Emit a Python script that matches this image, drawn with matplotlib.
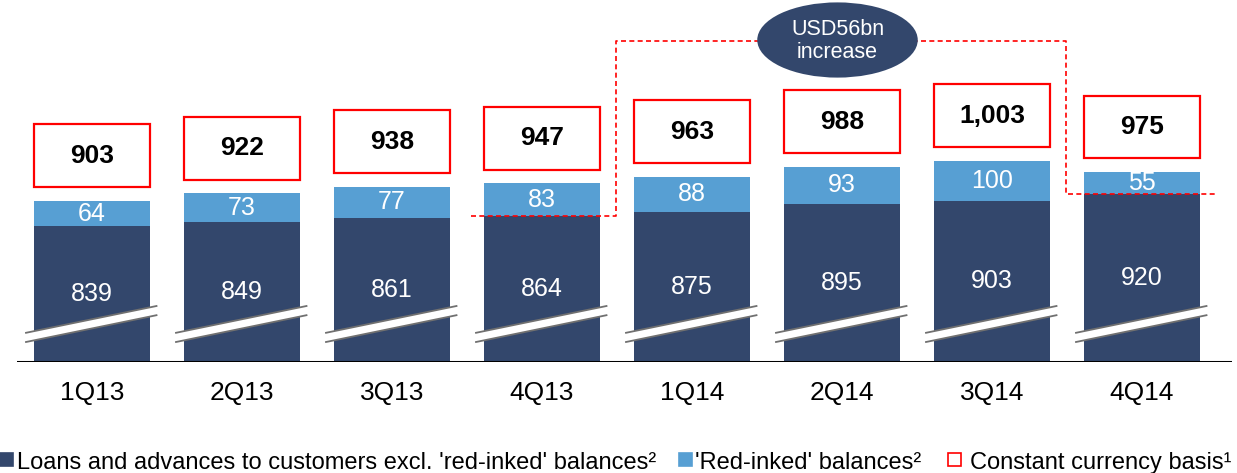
import numpy as np
import matplotlib.pyplot as plt
from matplotlib.patches import Rectangle, Ellipse, Polygon

plt.rcParams['font.family'] = ['Liberation Sans', 'DejaVu Sans']

quarters = ['1Q13', '2Q13', '3Q13', '4Q13', '1Q14', '2Q14', '3Q14', '4Q14']
loans = [839, 849, 861, 864, 875, 895, 903, 920]
red_inked = [64, 73, 77, 83, 88, 93, 100, 55]
constant_ccy = ['903', '922', '938', '947', '963', '988', '1,003', '975']

DARK = '#33476c'
LIGHT = '#579fd3'
RED = '#ff0000'

W, H = 1237, 473

# axis is broken: bars are drawn from zero but only the part above 500 shows
Y0 = 500
BOX_GAP = 34
BOX_H = 157

fig = plt.figure(figsize=(W / 100, H / 100), dpi=100)
ax = fig.add_axes([17 / W, 111 / H, 1215 / W, 362 / H])
ax.set_xlim(-0.5, 7.6)
ax.set_ylim(Y0, Y0 + 362 / 0.4)
ax.axis('off')

x = np.arange(len(quarters))
totals = np.array(loans) + np.array(red_inked)

ax.bar(x, loans, width=0.77, color=DARK, zorder=2)
ax.bar(x, red_inked, bottom=loans, width=0.77, color=LIGHT, zorder=2)
ax.axhline(Y0, color='black', lw=2.2, zorder=5)

for i in x:
    # break marks
    band = Polygon([(i - 0.44, 550), (i + 0.43, 617), (i + 0.43, 640),
                    (i - 0.44, 573)], closed=True, facecolor='white',
                   edgecolor='none', zorder=3)
    ax.add_patch(band)
    ax.plot([i - 0.44, i + 0.43], [550, 617], color='#707070', lw=1.3, zorder=4)
    ax.plot([i - 0.44, i + 0.43], [573, 640], color='#707070', lw=1.3, zorder=4)

    ax.text(i, (Y0 + loans[i]) / 2, str(loans[i]), color='white',
            ha='center', va='center', fontsize=18, zorder=4)
    ax.text(i, loans[i] + red_inked[i] / 2, str(red_inked[i]), color='white',
            ha='center', va='center', fontsize=18, zorder=4)

    # constant currency boxes
    b = totals[i] + BOX_GAP
    ax.add_patch(Rectangle((i - 0.387, b), 0.774, BOX_H, facecolor='white',
                           edgecolor=RED, lw=1.6, zorder=3))
    ax.text(i, b + BOX_H / 2, constant_ccy[i], ha='center', va='center',
            fontsize=19, fontweight='bold', zorder=4)

    ax.text(i, Y0 - 78, quarters[i], ha='center', va='center',
            fontsize=19, clip_on=False)

# dashed bracket showing the increase
top = 1302
ax.plot([2.53, 3.49, 3.49, 6.49, 6.49, 7.49],
        [loans[3], loans[3], top, top, loans[7], loans[7]],
        color=RED, lw=1.2, ls=(0, (3, 2)), zorder=6)
ax.add_patch(Ellipse((4.97, 1305), 1.07, 188, facecolor=DARK,
                     edgecolor='none', zorder=7, clip_on=False))
ax.text(4.97, 1303, 'USD%dbn\nincrease' % (loans[7] - loans[3]),
        color='white', ha='center', va='center', fontsize=15.5,
        linespacing=1.15, zorder=8)

# legend, laid out by hand along the bottom edge
legend_items = [
    (0, 17, DARK, DARK, "Loans and advances to customers excl. 'red-inked' balances\u00b2"),
    (679, 695, LIGHT, LIGHT, "'Red-inked' balances\u00b2"),
    (948, 970, 'white', RED, "Constant currency basis\u00b9"),
]
for px, tx, fc, ec, label in legend_items:
    fig.patches.append(Rectangle((px / W, 7 / H), 13 / W, 13 / H,
                                 facecolor=fc, edgecolor=ec, lw=1.2,
                                 transform=fig.transFigure, figure=fig))
    fig.text(tx / W, 4 / H, label, fontsize=17, va='baseline', ha='left')

fig.savefig('out.png', dpi=100)
